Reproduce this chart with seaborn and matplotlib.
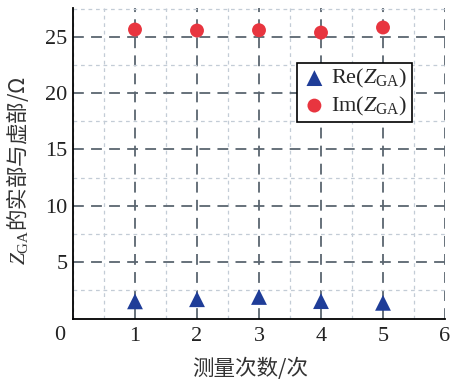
import numpy as np
import pandas as pd
import matplotlib
matplotlib.use("Agg")
import matplotlib.pyplot as plt
import seaborn as sns
from matplotlib.ticker import MultipleLocator

# Data
trials = [1, 2, 3, 4, 5]
re_vals = [1.53, 1.72, 1.92, 1.55, 1.40]
im_vals = [25.64, 25.55, 25.58, 25.37, 25.82]
series_names = ["Re($Z_{\\mathrm{GA}}$)", "Im($Z_{\\mathrm{GA}}$)"]
x_ticks = [1, 2, 3, 4, 5, 6]
y_ticks = [5, 10, 15, 20, 25]
xlabel = "测量次数/次"
ylabel_cn = "的实部与虚部/Ω"

df = pd.DataFrame({
    "x": trials + trials,
    "y": re_vals + im_vals,
    "s": [series_names[0]] * len(trials) + [series_names[1]] * len(trials),
})

sns.set_style("white")
plt.rcParams["font.family"] = ["Liberation Serif", "Noto Sans CJK SC"]
plt.rcParams["mathtext.fontset"] = "custom"
plt.rcParams["mathtext.rm"] = "Liberation Serif"
plt.rcParams["mathtext.it"] = "Liberation Serif:italic"

fig = plt.figure(figsize=(4.51, 3.84), dpi=100)
ax = fig.add_axes([73 / 451, 1 - 318.6 / 384, (445 - 73) / 451, (318.6 - 8) / 384])

blue = "#1F3D98"
red = "#E8353F"
sns.scatterplot(data=df[df.s == series_names[0]], x="x", y="y", marker="^", color=blue,
                s=130, edgecolor="none", ax=ax, label=series_names[0], zorder=5)
sns.scatterplot(data=df[df.s == series_names[1]], x="x", y="y", marker="o", color=red,
                s=100, edgecolor="none", ax=ax, label=series_names[1], zorder=5)

ax.set_xlim(0, 6)
ax.set_ylim(0, 27.55)
ax.set_xticks(x_ticks)
ax.set_yticks(y_ticks)
ax.xaxis.set_minor_locator(MultipleLocator(0.5))
ax.yaxis.set_minor_locator(MultipleLocator(2.5))

ax.grid(which="major", color="#5b6670", linestyle=(0, (6, 4)), linewidth=1.3)
ax.grid(which="minor", color="#c3ccd6", linestyle=(0, (3, 3)), linewidth=0.9)
ax.set_axisbelow(True)

for side in ["top", "right"]:
    ax.spines[side].set_visible(False)
for side in ["left", "bottom"]:
    ax.spines[side].set_color("black")
    ax.spines[side].set_linewidth(1.3)

ax.tick_params(which="major", direction="in", length=7, width=1.3, color="black",
               labelsize=16, labelcolor="#222222")
ax.tick_params(which="minor", direction="in", length=4, width=1.3, color="black")
ax.tick_params(axis="x", which="major", pad=6)
ax.tick_params(axis="y", which="major", pad=4)

ax.annotate("0", xy=(0, 0), xycoords="data", xytext=(-9.5, -12.5), textcoords="offset points",
            ha="center", va="center", fontsize=16, color="#222222")

ax.set_xlabel(xlabel, fontsize=15.5, color="#333333",
              family=["Noto Sans CJK SC", "DejaVu Sans"])
ax.set_ylabel("$Z_{\\mathrm{GA}}$" + ylabel_cn, fontsize=15.5, color="#333333",
              family=["Noto Sans CJK SC", "DejaVu Sans"])
ax.xaxis.set_label_coords(0.476, -0.125)
ax.yaxis.set_label_coords(-0.113, 0.477)

leg = ax.legend(loc="upper right", bbox_to_anchor=(0.91, 0.823), fontsize=16,
                frameon=True, fancybox=False, edgecolor="black", framealpha=1,
                borderpad=0.2, handletextpad=0.15, labelspacing=0.2, handlelength=1.2,
                borderaxespad=0)
leg.get_frame().set_linewidth(1.2)

fig.savefig("out.png", dpi=100)
